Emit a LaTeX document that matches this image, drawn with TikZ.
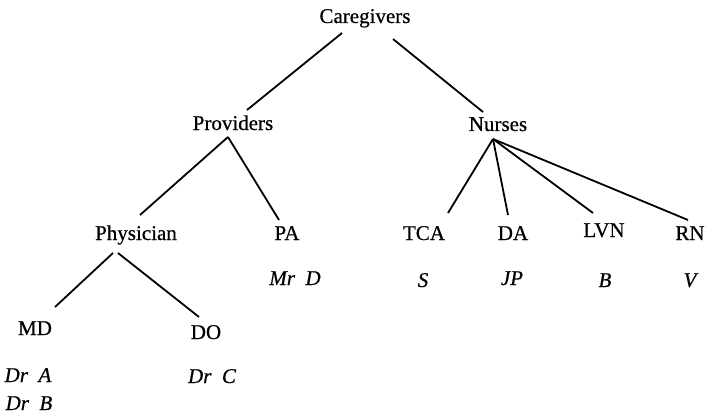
\documentclass[tikz,border=0pt]{standalone}
\usepackage{fontspec}
\setmainfont[FakeBold=0.6,AutoFakeBold=0.6]{Liberation Serif}
\usetikzlibrary{calc}
\begin{document}
\begin{tikzpicture}[x=1pt,y=-1pt,
  lbl/.style={anchor=base,inner sep=0pt,font=\fontsize{21}{25}\selectfont},
  who/.style={anchor=base,inner sep=0pt,font=\fontsize{21}{25}\selectfont\itshape},
  edge/.style={line width=1.8pt}]
\useasboundingbox (0,0) rectangle (706,417);
\node[lbl] (cg) at (365,23) {Caregivers};
\node[lbl] (pv) at (233,130) {Providers};
\node[lbl] (nu) at (498,131) {Nurses};
\node[lbl] (ph) at (136,240) {Physician};
\node[lbl] (pa) at (287,240) {PA};
\node[lbl] (md) at (35,335) {MD};
\node[lbl] (do) at (206,339) {DO};
\node[lbl] (tca) at (424,240) {TCA};
\node[lbl] (da) at (513,240) {DA};
\node[lbl] (lvn) at (604,237) {LVN};
\node[lbl] (rn) at (690,240) {RN};
\node[who] (mrd) at (295,285) {Mr\ \ D};
\node[who] (dra) at (28,382) {Dr\ \ A};
\node[who] (drb) at (29,410) {Dr\ \ B};
\node[who] (drc) at (212,383) {Dr\ \ C};
\node[who] (s) at (423,287) {S};
\node[who] (jp) at (512,285) {JP};
\node[who] (b) at (605,287) {B};
\node[who] (v) at (690,287) {V};
\draw[edge] ($(cg.base)+(-23,10)$) -- ($(pv.base)+(14,-20)$);
\draw[edge] ($(cg.base)+(28,16)$) -- ($(nu.base)+(-15,-19)$);
\draw[edge] ($(pv.base)+(-5,7)$) -- ($(ph.base)+(4,-25)$);
\draw[edge] ($(pv.base)+(-5,7)$) -- ($(pa.base)+(-8,-20)$);
\draw[edge] ($(ph.base)+(-23,13)$) -- ($(md.base)+(20,-28)$);
\draw[edge] ($(ph.base)+(-18,13)$) -- ($(do.base)+(-7,-22)$);
\draw[edge] ($(nu.base)+(-5,8)$) -- ($(tca.base)+(24,-27)$);
\draw[edge] ($(nu.base)+(-5,8)$) -- ($(da.base)+(-5,-25)$);
\draw[edge] ($(nu.base)+(-5,8)$) -- ($(lvn.base)+(-11,-24)$);
\draw[edge] ($(nu.base)+(-5,8)$) -- ($(rn.base)+(-2,-20)$);
\end{tikzpicture}
\end{document}
